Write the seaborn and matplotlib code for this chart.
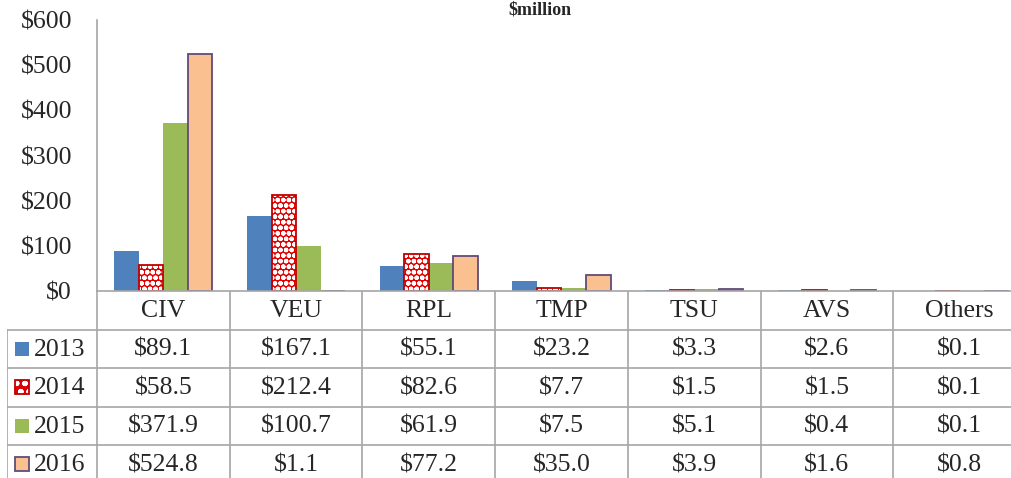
import numpy as np
import pandas as pd
import matplotlib
matplotlib.use('Agg')
import matplotlib.pyplot as plt
from matplotlib.patches import Rectangle
import seaborn as sns

# values in $million
categories = ['CIV', 'VEU', 'RPL', 'TMP', 'TSU', 'AVS', 'Others']
years = ['2013', '2014', '2015', '2016']
v2013 = [89.1, 167.1, 55.1, 23.2, 3.3, 2.6, 0.1]
v2014 = [58.5, 212.4, 82.6, 7.7, 1.5, 1.5, 0.1]
v2015 = [371.9, 100.7, 61.9, 7.5, 5.1, 0.4, 0.1]
v2016 = [524.8, 1.1, 77.2, 35.0, 3.9, 1.6, 0.8]
y_ticks = [0, 100, 200, 300, 400, 500, 600]
title = '$million'

series = {'2013': v2013, '2014': v2014, '2015': v2015, '2016': v2016}
colors = {'2013': '#4F81BD', '2014': '#E00000', '2015': '#9BBB59', '2016': '#FAC090'}
edges = {'2013': 'none', '2014': '#C00000', '2015': 'none', '2016': '#5F4B7A'}
grid_col = '#A6A6A6'

rows = []
for yr in years:
    for cat, val in zip(categories, series[yr]):
        rows.append({'category': cat, 'year': yr, 'value': val})
df = pd.DataFrame(rows)

sns.set_style('white')
plt.rcParams['font.family'] = ['Liberation Serif', 'DejaVu Serif']
plt.rcParams['hatch.linewidth'] = 1.6
fs = 18.5

W, H = 1011, 478
fig = plt.figure(figsize=(W / 100, H / 100), dpi=100)

# plot area (right side of the original is cropped, so the axes runs past the edge)
ax_left, ax_right, ax_top, ax_bot = 97, 1026, 20, 291
ax = fig.add_axes([ax_left / W, (H - ax_bot) / H, (ax_right - ax_left) / W, (ax_bot - ax_top) / H])

sns.barplot(data=df, x='category', y='value', hue='year', hue_order=years,
            order=categories, palette=colors, width=0.74, gap=0, saturation=1,
            linewidth=0, legend=False, ax=ax)

for yr, cont in zip(years, ax.containers):
    for bar in cont:
        if yr == '2014':
            bar.set_hatch('ooo')
            bar.set_edgecolor('white')
            bar.set_linewidth(0)
            ax.add_patch(Rectangle(bar.get_xy(), bar.get_width(), bar.get_height(),
                                   fill=False, edgecolor=edges[yr], linewidth=1.3))
        elif edges[yr] != 'none':
            bar.set_edgecolor(edges[yr])
            bar.set_linewidth(1.3)

ax.set_xlim(-0.5, len(categories) - 0.5)
ax.set_ylim(0, 600)
ax.set_yticks(y_ticks)
ax.set_yticklabels([f'${t}' for t in y_ticks], fontsize=fs)
ax.tick_params(axis='y', length=0, pad=18)
ax.set_xticks([])
ax.set_xlabel('')
ax.set_ylabel('')
for s in ['top', 'right']:
    ax.spines[s].set_visible(False)
for s in ['left', 'bottom']:
    ax.spines[s].set_color(grid_col)
    ax.spines[s].set_linewidth(1.2)

# data table below the chart
unit = (ax_right - ax_left) / len(categories)   # px per category column
row_h = 38.5                                   # px per table row
lab_w = ax_left - 7                            # px of the row label column
tax = fig.add_axes([7 / W, 0, (ax_right - 7) / W, (H - ax_bot) / H])
x0 = -0.5 - lab_w / unit
tax.set_xlim(x0, len(categories) - 0.5)
tax.set_ylim((H - ax_bot) / row_h, 0)
tax.axis('off')

n_rows = len(years) + 1
for k in range(len(categories) + 1):
    tax.plot([k - 0.5, k - 0.5], [0, n_rows], color=grid_col, lw=1.2, clip_on=True)
tax.plot([x0, x0], [1, n_rows], color=grid_col, lw=1.2)
for r in range(1, n_rows + 1):
    tax.plot([x0, len(categories) - 0.5], [r, r], color=grid_col, lw=1.2)

for i, cat in enumerate(categories):
    tax.text(i, 0.52, cat, ha='center', va='center', fontsize=fs)

px_x, px_y = 1 / unit, 1 / row_h
for r, yr in enumerate(years):
    yc = r + 1.5
    for i, val in enumerate(series[yr]):
        tax.text(i, yc + 0.02, f'${val:.1f}', ha='center', va='center', fontsize=fs)
    key = Rectangle((x0 + 8 * px_x, yc - 7 * px_y), 14 * px_x, 14 * px_y,
                    facecolor=colors[yr], edgecolor='none', linewidth=0)
    if yr == '2014':
        key.set_hatch('oo')
        key.set_edgecolor('white')
    tax.add_patch(key)
    if edges[yr] != 'none':
        tax.add_patch(Rectangle((x0 + 8 * px_x, yc - 7 * px_y), 14 * px_x, 14 * px_y,
                                fill=False, edgecolor=edges[yr], linewidth=1.3))
    tax.text(x0 + 27 * px_x, yc + 0.02, yr, ha='left', va='center', fontsize=fs)

# chart title (cut off at the top in the original; kept small so it fits)
fig.text(540 / W, 1 - 1 / H, title, ha='center', va='top', fontsize=13, fontweight='bold')

fig.savefig('out.png', dpi=100)
